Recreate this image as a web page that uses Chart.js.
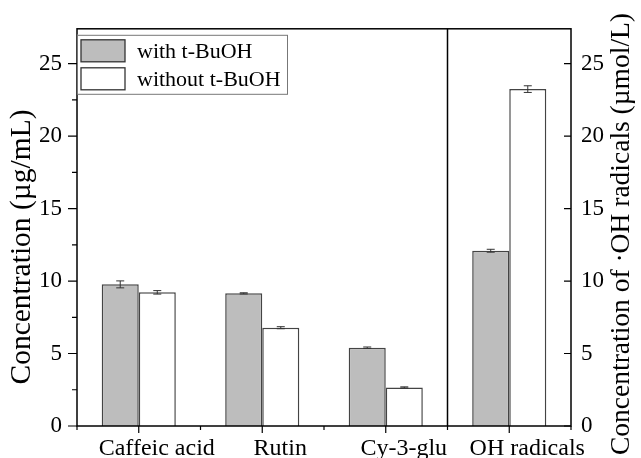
<!DOCTYPE html>
<html>
<head>
<meta charset="utf-8">
<script src="https://cdn.jsdelivr.net/npm/chart.js@4.4.1/dist/chart.umd.min.js"></script>
<style>
  html, body { margin: 0; padding: 0; background: #fff; }
  #wrap { width: 641px; height: 458px; }
</style>
</head>
<body>
<div id="wrap"><canvas id="c" width="641" height="458"></canvas></div>
<script>
// Measured concentrations (µg/mL for the phenolics, µmol/L for ·OH radicals)
const categories = ['Caffeic acid', 'Rutin', 'Cy-3-glu', 'OH radicals'];
const withTBuOH = [9.77, 9.15, 5.40, 12.09];
const withTBuOHErr = [0.24, 0.04, 0.05, 0.10];
const withoutTBuOH = [9.22, 6.78, 2.66, 23.24];
const withoutTBuOHErr = [0.12, 0.07, 0.04, 0.23];
const yTicks = [0, 5, 10, 15, 20, 25];
const yMax = 27.4;

const FONT = '"Liberation Serif", "Times New Roman", serif';
const errors = [withTBuOHErr, withoutTBuOHErr];

// Frame, divider and tick marks (major + minor)
const framePlugin = {
  id: 'frame',
  afterDraw(chart) {
    const { ctx, chartArea: a, scales } = chart;
    const x = scales.x, y = scales.y;
    ctx.save();
    ctx.strokeStyle = '#000';
    ctx.lineWidth = 1.5;
    ctx.strokeRect(a.left, a.top, a.right - a.left, a.bottom - a.top);
    // divider between the phenolic compounds and the radical measurement
    const xd = (x.getPixelForValue(2) + x.getPixelForValue(3)) / 2;
    ctx.beginPath();
    ctx.moveTo(xd, a.top); ctx.lineTo(xd, a.bottom);
    ctx.stroke();
    ctx.lineWidth = 1.2;
    ctx.beginPath();
    // left axis: outward ticks, minor every 2.5
    for (let v = 0; v <= yMax + 1e-9; v += 2.5) {
      const py = y.getPixelForValue(v);
      const major = Math.abs(v % 5) < 1e-9;
      ctx.moveTo(a.left, py); ctx.lineTo(a.left - (major ? 9 : 5), py);
    }
    // right axis: inward ticks
    yTicks.forEach(v => {
      const py = scales.y2.getPixelForValue(v);
      ctx.moveTo(a.right, py); ctx.lineTo(a.right - 7, py);
    });
    // bottom axis: major at categories, minor at boundaries
    categories.forEach((c, i) => {
      const px = x.getPixelForValue(i);
      ctx.moveTo(px, a.bottom); ctx.lineTo(px, a.bottom + 7);
    });
    const step = (a.right - a.left) / categories.length;
    for (let i = 0; i <= categories.length; i++) {
      const px = a.left + i * step;
      ctx.moveTo(px, a.bottom); ctx.lineTo(px, a.bottom + 4);
    }
    ctx.stroke();
    ctx.restore();
  }
};

// Error bars with caps
const errorBarPlugin = {
  id: 'errorBars',
  afterDatasetsDraw(chart) {
    const { ctx } = chart;
    const y = chart.scales.y;
    ctx.save();
    ctx.strokeStyle = '#333';
    ctx.lineWidth = 1;
    chart.data.datasets.forEach((ds, di) => {
      const meta = chart.getDatasetMeta(di);
      meta.data.forEach((bar, i) => {
        const v = ds.data[i], e = errors[di][i];
        const yt = y.getPixelForValue(v + e), yb = y.getPixelForValue(v - e);
        const cx = bar.x, hw = 4;
        ctx.beginPath();
        ctx.moveTo(cx, yt); ctx.lineTo(cx, yb);
        ctx.moveTo(cx - hw, yt); ctx.lineTo(cx + hw, yt);
        ctx.moveTo(cx - hw, yb); ctx.lineTo(cx + hw, yb);
        ctx.stroke();
      });
    });
    ctx.restore();
  }
};

// Boxed legend in the top-left corner
const legendPlugin = {
  id: 'boxLegend',
  afterDraw(chart) {
    const { ctx, chartArea: a } = chart;
    const bx = a.left, by = a.top + 6, bw = 210, bh = 59;
    ctx.save();
    ctx.fillStyle = '#fff';
    ctx.fillRect(bx, by, bw, bh);
    ctx.strokeStyle = '#777';
    ctx.lineWidth = 1;
    ctx.strokeRect(bx + 0.5, by + 0.5, bw, bh);
    ctx.font = '22px ' + FONT;
    ctx.textBaseline = 'middle';
    chart.data.datasets.forEach((ds, i) => {
      const sy = by + 5 + i * 28;
      ctx.fillStyle = ds.backgroundColor;
      ctx.fillRect(bx + 4, sy, 44, 22);
      ctx.strokeStyle = '#333';
      ctx.lineWidth = 1.3;
      ctx.strokeRect(bx + 4, sy, 44, 22);
      ctx.fillStyle = '#000';
      ctx.fillText(ds.label, bx + 60, sy + 12);
    });
    ctx.restore();
  }
};

// Rotated axis titles, both reading bottom to top
const titlePlugin = {
  id: 'axisTitles',
  afterDraw(chart) {
    const { ctx } = chart;
    ctx.save();
    ctx.fillStyle = '#000';
    ctx.textAlign = 'center';
    ctx.textBaseline = 'middle';
    [[22, 247, 29.5, 'Concentration (µg/mL)'], [622, 234, 27.5, 'Concentration of ·OH radicals (µmol/L)']]
      .forEach(([tx, ty, fs, txt]) => {
        ctx.save();
        ctx.font = fs + 'px ' + FONT;
        ctx.translate(tx, ty);
        ctx.rotate(-Math.PI / 2);
        ctx.fillText(txt, 0, 0);
        ctx.restore();
      });
    ctx.restore();
  }
};

const tickFont = { family: FONT, size: 23 };

new Chart(document.getElementById('c'), {
  type: 'bar',
  data: {
    labels: categories,
    datasets: [
      { label: 'with t-BuOH', data: withTBuOH, backgroundColor: '#bdbdbd',
        borderColor: '#444', borderWidth: 1.5, yAxisID: 'y' },
      { label: 'without t-BuOH', data: withoutTBuOH, backgroundColor: '#ffffff',
        borderColor: '#444', borderWidth: 1.5, yAxisID: 'y' }
    ]
  },
  options: {
    responsive: false,
    animation: false,
    layout: { padding: { top: 27, left: 0, right: 0, bottom: 0 } },
    datasets: { bar: { categoryPercentage: 0.6, barPercentage: 1.0 } },
    plugins: { legend: { display: false }, tooltip: { enabled: false } },
    scales: {
      x: {
        type: 'category',
        offset: true,
        grid: { display: false, drawTicks: false },
        border: { display: false },
        ticks: { font: { family: FONT, size: 24 }, color: '#000', padding: 8,
                 labelOffset: 18, maxRotation: 0, autoSkip: false },
        afterFit(s) { s.height = 32; }
      },
      y: {
        position: 'left',
        min: 0, max: yMax,
        grid: { display: false, drawTicks: false },
        border: { display: false },
        ticks: { stepSize: 5, includeBounds: false, font: tickFont, color: '#000', padding: 15 },
        afterBuildTicks(s) { s.ticks = yTicks.map(v => ({ value: v })); },
        afterFit(s) { s.width = 77; }
      },
      y2: {
        position: 'right',
        min: 0, max: yMax,
        grid: { display: false, drawTicks: false },
        border: { display: false },
        ticks: { stepSize: 5, includeBounds: false, font: tickFont, color: '#000', padding: 10 },
        afterBuildTicks(s) { s.ticks = yTicks.map(v => ({ value: v })); },
        afterFit(s) { s.width = 70; }
      }
    }
  },
  plugins: [errorBarPlugin, framePlugin, legendPlugin, titlePlugin]
});
</script>
</body>
</html>
